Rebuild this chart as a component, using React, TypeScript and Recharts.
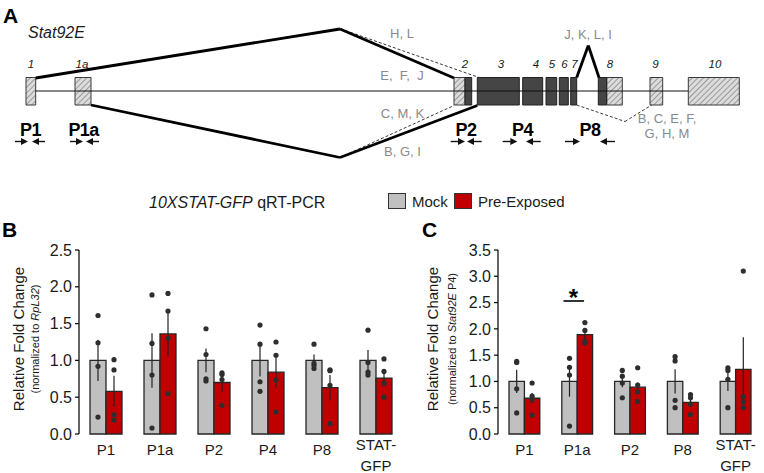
import React from 'react';
import {
  ComposedChart,
  Bar,
  Scatter,
  XAxis,
  YAxis,
  ErrorBar,
  ReferenceLine,
  ReferenceArea,
  ReferenceDot,
} from 'recharts';

const FONT = '"Liberation Sans", Arial, Helvetica, sans-serif';
const INK = '#1a1a1a';
const MOCK_FILL = '#c0c0c0';
const EXPOSED_FILL = '#c00000';

// panel B, normalised to RpL32
const primersB = ['P1', 'P1a', 'P2', 'P4', 'P8', 'STAT-GFP'];
const mockB = [1.0, 1.0, 1.0, 1.0, 1.0, 1.0];
const mockErrB = [0.28, 0.37, 0.16, 0.22, 0.08, 0.14];
const exposedB = [0.58, 1.36, 0.7, 0.84, 0.63, 0.76];
const exposedErrB = [0.21, 0.3, 0.13, 0.21, 0.17, 0.11];
const mockPtsB = [
  [1.61, 1.24, 0.92, 0.23],
  [1.89, 1.23, 0.8, 0.08],
  [1.43, 1.08, 0.75, 0.72],
  [1.48, 1.22, 0.71, 0.58],
  [1.22, 0.96, 0.93, 0.89],
  [1.41, 0.97, 0.84, 0.8],
];
const exposedPtsB = [
  [1.01, 0.87, 0.26, 0.19],
  [1.91, 1.67, 1.3, 0.55],
  [0.83, 0.81, 0.74, 0.39],
  [1.25, 1.07, 0.73, 0.3],
  [0.87, 0.86, 0.66, 0.14],
  [1.02, 0.85, 0.69, 0.5],
];

// panel C, normalised to Stat92E P4
const primersC = ['P1', 'P1a', 'P2', 'P8', 'STAT-GFP'];
const mockC = [1.0, 1.0, 1.0, 1.0, 1.0];
const mockErrC = [0.22, 0.29, 0.11, 0.23, 0.18];
const exposedC = [0.68, 1.89, 0.89, 0.6, 1.23];
const exposedErrC = [0.1, 0.09, 0.09, 0.08, 0.61];
const mockPtsC = [
  [1.38, 1.36, 0.86, 0.4],
  [1.44, 1.27, 1.12, 0.15],
  [1.21, 1.1, 0.97, 0.69],
  [1.47, 1.39, 0.64, 0.5],
  [1.26, 1.21, 1.04, 0.5],
];
const exposedPtsC = [
  [0.97, 0.72, 0.66, 0.36],
  [2.12, 1.97, 1.76, 1.73],
  [1.26, 0.93, 0.8, 0.62],
  [0.75, 0.69, 0.57, 0.37],
  [3.1, 0.71, 0.61, 0.5],
];

// gene model of Stat92E (schematic coordinates)
const exonNames = ['1', '1a', '2', '3', '4', '5', '6', '7', '8', '9', '10'];
const exonLabelPos = [31, 82, 465, 501, 536, 552, 564.5, 574.5, 610, 655.5, 715];
const utrBlocks = [[26, 35.7], [75, 91], [454, 465], [606.7, 622.3], [650, 662.7], [688.3, 739.3]];
const cdsBlocks = [[465, 471.7], [477.3, 519.3], [522.7, 542.7], [546, 556.7], [559.3, 568.3], [570.7, 576.7], [598.3, 606.7]];
const intronSpan = [35.7, 688.3];
const spliceSolid = [
  [[35.7, 78], [340, 29], [454, 78]],
  [[91, 105], [340, 157.5], [477.3, 105.5]],
  [[576.7, 77.5], [588.3, 45.5], [599, 77.5]],
];
const spliceDashed = [
  [[341, 29], [479, 77.5]],
  [[340, 157.5], [454, 105.5]],
  [[576.7, 105], [625, 121.5], [651.7, 105]],
];
const isoformNotes = ['H, L', 'E,  F,  J', 'C, M, K', 'B, G, I', 'J, K, L, I', 'B, C, E, F,', 'G, H, M'];
const isoformNotePos = [[402, 33.5], [402, 75], [402.5, 113.5], [402.5, 151], [588, 34], [667, 118.5], [667, 133.5]];
const primerNames = ['P1', 'P1a', 'P2', 'P4', 'P8'];
const primerLabelPos = [30.5, 83.5, 466, 522.5, 590];
const primerFwd = [[15, 28], [70, 83], [450.7, 465], [502.7, 517.3], [565, 580]];
const primerRev = [[45, 32], [99, 86], [481.7, 467], [540.7, 526], [615, 600]];

const exonTop = 77.5;
const exonBottom = 105;
const trackY = 91;
const arrowY = 141.5;

const textShape = (content: React.ReactNode, style: Record<string, any>) => (p: any) => (
  <text x={p.cx} y={p.cy} textAnchor="middle" {...style}>
    {content}
  </text>
);

const arrowShape = (p: any) => {
  const { x1, y1, x2, y2 } = p;
  const dir = x2 > x1 ? 1 : -1;
  return (
    <g>
      <line x1={x1} y1={y1} x2={x2 - dir * 4} y2={y2} stroke="#111" strokeWidth={1.4} />
      <polygon points={`${x2},${y2} ${x2 - dir * 7},${y2 - 3.6} ${x2 - dir * 7},${y2 + 3.6}`} fill="#111" />
    </g>
  );
};

function GeneModel() {
  const dummy = exonNames.map((name) => ({ name }));
  const segs = (pts: number[][]) => pts.slice(1).map((p, i) => [pts[i], p]);
  return (
    <ComposedChart width={764} height={185} data={dummy} margin={{ top: 0, right: 0, bottom: 0, left: 0 }}>
      <defs>
        <pattern id="utrHatch" patternUnits="userSpaceOnUse" width={4} height={4} patternTransform="rotate(45)">
          <rect width={4} height={4} fill="#dcdcdc" />
          <line x1={0} y1={0} x2={0} y2={4} stroke="#7d7d7d" strokeWidth={1.4} />
        </pattern>
      </defs>
      <XAxis type="number" dataKey="pos" domain={[0, 764]} hide allowDataOverflow />
      <YAxis type="number" domain={[0, 185]} reversed hide allowDataOverflow />

      <ReferenceLine segment={[{ x: intronSpan[0], y: trackY }, { x: intronSpan[1], y: trackY }]} stroke="#111" strokeWidth={1} />

      {spliceDashed.flatMap((pts, k) =>
        segs(pts).map(([a, b], i) => (
          <ReferenceLine key={`d${k}-${i}`} segment={[{ x: a[0], y: a[1] }, { x: b[0], y: b[1] }]} stroke="#222" strokeWidth={0.9} strokeDasharray="3 2" />
        ))
      )}
      {spliceSolid.flatMap((pts, k) =>
        segs(pts).map(([a, b], i) => (
          <ReferenceLine key={`s${k}-${i}`} segment={[{ x: a[0], y: a[1] }, { x: b[0], y: b[1] }]} stroke="#000" strokeWidth={2.8} />
        ))
      )}

      {utrBlocks.map(([s, e], i) => (
        <ReferenceArea key={`u${i}`} x1={s} x2={e} y1={exonTop} y2={exonBottom} fill="url(#utrHatch)" fillOpacity={1} stroke="#3a3a3a" strokeWidth={1} />
      ))}
      {cdsBlocks.map(([s, e], i) => (
        <ReferenceArea key={`c${i}`} x1={s} x2={e} y1={exonTop} y2={exonBottom} fill="#454545" fillOpacity={1} stroke="#222" strokeWidth={1} />
      ))}

      {exonNames.map((n, i) => (
        <ReferenceDot key={`e${n}`} x={exonLabelPos[i]} y={68} r={0} shape={textShape(n, { fontSize: 11.5, fontStyle: 'italic', fill: INK })} />
      ))}
      {isoformNotes.map((t, i) => (
        <ReferenceDot key={`n${i}`} x={isoformNotePos[i][0]} y={isoformNotePos[i][1]} r={0} shape={textShape(t, { fontSize: 13, fill: '#8a8a8a', dy: '0.36em', style: { whiteSpace: 'pre' } })} />
      ))}
      {primerNames.map((n, i) => (
        <ReferenceDot key={`p${n}`} x={primerLabelPos[i]} y={135.5} r={0} shape={textShape(n, { fontSize: 18, fontWeight: 'bold', fill: '#000', letterSpacing: -0.6 })} />
      ))}
      {primerFwd.map(([a, b], i) => (
        <ReferenceLine key={`f${i}`} segment={[{ x: a, y: arrowY }, { x: b, y: arrowY }]} shape={arrowShape} />
      ))}
      {primerRev.map(([a, b], i) => (
        <ReferenceLine key={`r${i}`} segment={[{ x: a, y: arrowY }, { x: b, y: arrowY }]} shape={arrowShape} />
      ))}
    </ComposedChart>
  );
}

const PrimerTick = (props: any) => {
  const { x, y, payload } = props;
  const text = String(payload.value);
  const dash = text.indexOf('-');
  if (dash > 0) {
    return (
      <text x={x} y={y} textAnchor="middle" fontSize={15} fill={INK}>
        <tspan x={x} dy={16}>{text.slice(0, dash + 1)}</tspan>
        <tspan x={x} dy={21}>{text.slice(dash + 1)}</tspan>
      </text>
    );
  }
  return (
    <text x={x} y={y + 21} textAnchor="middle" fontSize={15} fill={INK}>
      {text}
    </text>
  );
};

interface FoldChartProps {
  primers: string[];
  mock: number[];
  mockErr: number[];
  exposed: number[];
  exposedErr: number[];
  mockPts: number[][];
  exposedPts: number[][];
  yTicks: number[];
  width: number;
  axisWidth: number;
  rightPad: number;
  barSize: number;
  titleGap: number;
  subGap: number;
  subtitle: React.ReactNode;
  children?: React.ReactNode;
}

function FoldChart(p: FoldChartProps) {
  const rows = p.primers.map((primer, i) => ({
    primer,
    mock: p.mock[i],
    mockErr: p.mockErr[i],
    exposed: p.exposed[i],
    exposedErr: p.exposedErr[i],
  }));
  const mockDots = p.mockPts.flatMap((vals, i) => vals.map((value) => ({ slot: i + 0.5, value })));
  const exposedDots = p.exposedPts.flatMap((vals, i) => vals.map((value) => ({ slot: i + 0.5, value })));
  const slots = Array.from({ length: p.primers.length + 1 }, (_, i) => i);
  const half = p.barSize / 2;
  const dot = (dx: number) => (s: any) => <circle cx={s.cx + dx} cy={s.cy} r={2.6} fill="#2e2e2e" />;
  const yMax = p.yTicks[p.yTicks.length - 1];

  const axisTitle = (lp: any) => {
    const vb = lp.viewBox;
    const axisX = vb.x + vb.width;
    const cy = vb.y + vb.height / 2 - 3;
    const x1 = axisX - p.titleGap;
    const x2 = axisX - p.subGap;
    return (
      <g>
        <text x={x1} y={cy} transform={`rotate(-90, ${x1}, ${cy})`} textAnchor="middle" fontSize={15} fill={INK}>
          Relative Fold Change
        </text>
        <text x={x2} y={cy} transform={`rotate(-90, ${x2}, ${cy})`} textAnchor="middle" fontSize={11} fill={INK}>
          {p.subtitle}
        </text>
      </g>
    );
  };

  return (
    <ComposedChart
      width={p.width}
      height={243}
      data={rows}
      barGap={0}
      margin={{ top: 20, right: p.rightPad, bottom: 0, left: 0 }}
    >
      <XAxis
        xAxisId="grid"
        type="number"
        dataKey="slot"
        domain={[0, p.primers.length]}
        ticks={slots}
        interval={0}
        tick={false}
        tickSize={5}
        height={0}
        allowDataOverflow
        axisLine={{ stroke: '#111', strokeWidth: 1.3 }}
        tickLine={{ stroke: '#111', strokeWidth: 1.3 }}
      />
      <XAxis
        xAxisId="cat"
        dataKey="primer"
        interval={0}
        axisLine={false}
        tickLine={false}
        tickSize={0}
        tickMargin={0}
        height={39}
        tick={<PrimerTick />}
      />
      <YAxis
        domain={[0, yMax]}
        ticks={p.yTicks}
        interval={0}
        width={p.axisWidth}
        tickFormatter={(v: number) => v.toFixed(1)}
        tick={{ fill: INK, fontSize: 16 }}
        tickSize={4}
        tickMargin={3}
        axisLine={{ stroke: '#111', strokeWidth: 1.3 }}
        tickLine={{ stroke: '#111', strokeWidth: 1.3 }}
        label={{ content: axisTitle }}
      />
      <Bar xAxisId="cat" dataKey="mock" barSize={p.barSize} fill={MOCK_FILL} stroke="#262626" strokeWidth={1.3} isAnimationActive={false}>
        <ErrorBar dataKey="mockErr" width={0} stroke="#222" strokeWidth={1.2} />
      </Bar>
      <Bar xAxisId="cat" dataKey="exposed" barSize={p.barSize} fill={EXPOSED_FILL} stroke="#262626" strokeWidth={1.3} isAnimationActive={false}>
        <ErrorBar dataKey="exposedErr" width={0} stroke="#222" strokeWidth={1.2} />
      </Bar>
      <Scatter xAxisId="grid" data={mockDots} dataKey="value" shape={dot(-half)} isAnimationActive={false} />
      <Scatter xAxisId="grid" data={exposedDots} dataKey="value" shape={dot(half)} isAnimationActive={false} />
      {p.children}
    </ComposedChart>
  );
}

export default function App() {
  return (
    <div style={{ position: 'absolute', left: 0, top: 0, width: 764, height: 473, overflow: 'hidden', background: '#fff', fontFamily: FONT }}>
      <div style={{ position: 'absolute', left: 0, top: 0 }}>
        <GeneModel />
      </div>

      <div style={{ position: 'absolute', left: 0, top: 230 }}>
        <FoldChart
          primers={primersB}
          mock={mockB}
          mockErr={mockErrB}
          exposed={exposedB}
          exposedErr={exposedErrB}
          mockPts={mockPtsB}
          exposedPts={exposedPtsB}
          yTicks={[0, 0.5, 1, 1.5, 2, 2.5]}
          width={410}
          axisWidth={79}
          rightPad={7}
          barSize={16}
          titleGap={55.5}
          subGap={39.6}
          subtitle={<>(normalized to <tspan fontStyle="italic">RpL32</tspan>)</>}
        />
      </div>

      <div style={{ position: 'absolute', left: 420, top: 230 }}>
        <FoldChart
          primers={primersC}
          mock={mockC}
          mockErr={mockErrC}
          exposed={exposedC}
          exposedErr={exposedErrC}
          mockPts={mockPtsC}
          exposedPts={exposedPtsC}
          yTicks={[0, 0.5, 1, 1.5, 2, 2.5, 3, 3.5]}
          width={344}
          axisWidth={78}
          rightPad={2}
          barSize={15.4}
          titleGap={60.5}
          subGap={42}
          subtitle={<>(normalized to <tspan fontStyle="italic">Stat92E</tspan> P4)</>}
        >
          <ReferenceLine xAxisId="grid" segment={[{ x: 1.24, y: 2.53 }, { x: 1.63, y: 2.53 }]} stroke="#000" strokeWidth={1.6} />
          <ReferenceDot xAxisId="grid" x={1.43} y={2.69} r={0} shape={textShape('*', { fontSize: 24, fontWeight: 'bold', fill: '#000', dy: '0.57em' })} />
        </FoldChart>
      </div>

      <svg width={764} height={473} style={{ position: 'absolute', left: 0, top: 0, pointerEvents: 'none' }}>
        <text x={3} y={23} fontSize={21} fontWeight="bold" fill="#000">A</text>
        <text x={2} y={237} fontSize={21} fontWeight="bold" fill="#000">B</text>
        <text x={422} y={237} fontSize={21} fontWeight="bold" fill="#000">C</text>
        <text x={28} y={38} fontSize={16} fontStyle="italic" fill={INK}>Stat92E</text>
        <text x={149} y={208} fontSize={16} fill={INK}>
          <tspan fontStyle="italic">10XSTAT-GFP</tspan> qRT-PCR
        </text>
        <rect x={388.5} y={193.5} width={17} height={15} fill={MOCK_FILL} stroke="#333" strokeWidth={1} />
        <text x={412} y={207} fontSize={15} fill={INK}>Mock</text>
        <rect x={454.5} y={193.5} width={17} height={15} fill={EXPOSED_FILL} stroke="#333" strokeWidth={1} />
        <text x={478} y={207} fontSize={15} fill={INK}>Pre-Exposed</text>
      </svg>
    </div>
  );
}
